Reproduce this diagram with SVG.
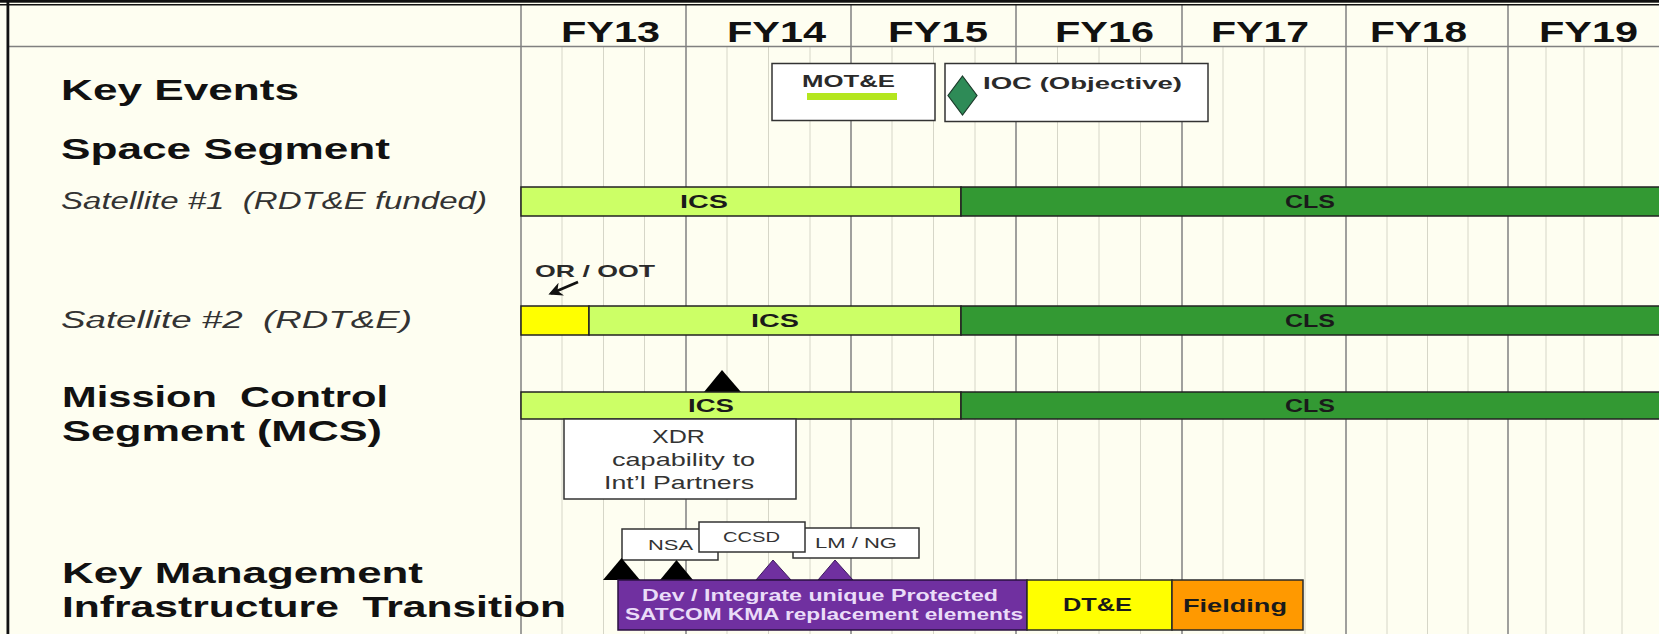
<svg xmlns="http://www.w3.org/2000/svg" width="1659" height="634" viewBox="0 0 1659 634">
<style>
  text { font-family: "Liberation Sans", Arial, sans-serif; }
  .sec { font-size: 30px; font-weight: bold; fill: #111; }
  .fy { font-size: 30px; font-weight: bold; fill: #111; }
  .it { font-size: 23px; font-style: italic; fill: #333; }
  .bt { font-size: 18px; font-weight: bold; fill: #1a1a1a; }
  .lbl { font-size: 17px; font-weight: bold; fill: #2a2a2a; }
  .reg { font-size: 19px; fill: #333; }
  .sm { font-size: 15px; fill: #333; }
  .pt { font-size: 16px; font-weight: bold; fill: #EADCF8; }
  .big { font-size: 19px; font-weight: bold; fill: #1a1a1a; }
  .box { fill: #fff; stroke: #333; stroke-width: 1.5; }
  .major { stroke: #808080; stroke-width: 1.5; }
  .minor { stroke: #d6d6c8; stroke-width: 1; }
  .bar { stroke: #222; stroke-width: 1.5; }
  .ics { fill: #CCFF66; }
  .cls { fill: #339933; }
  .blk { fill: #000; }
  .pur { fill: #7030A0; stroke: #3d1a5e; stroke-width: 1; }
</style>
<defs>
  <marker id="ah" viewBox="0 0 10 10" refX="8" refY="5" markerWidth="5" markerHeight="5" orient="auto">
    <path d="M0,0 L10,5 L0,10 L3,5 z" fill="#111"/>
  </marker>
</defs>

<g id="background">
  <rect x="0" y="0" width="1659" height="634" fill="#FEFEF1"/>
</g>

<g id="grid">
  <g class="minor">
    <line x1="562" y1="47" x2="562" y2="634"/><line x1="603.5" y1="47" x2="603.5" y2="634"/><line x1="644.5" y1="47" x2="644.5" y2="634"/>
    <line x1="727" y1="47" x2="727" y2="634"/><line x1="768.5" y1="47" x2="768.5" y2="634"/><line x1="810" y1="47" x2="810" y2="634"/>
    <line x1="892" y1="47" x2="892" y2="634"/><line x1="933.5" y1="47" x2="933.5" y2="634"/><line x1="975" y1="47" x2="975" y2="634"/>
    <line x1="1057.5" y1="47" x2="1057.5" y2="634"/><line x1="1099" y1="47" x2="1099" y2="634"/><line x1="1140.5" y1="47" x2="1140.5" y2="634"/>
    <line x1="1223" y1="47" x2="1223" y2="634"/><line x1="1264" y1="47" x2="1264" y2="634"/><line x1="1305" y1="47" x2="1305" y2="634"/>
    <line x1="1387" y1="47" x2="1387" y2="634"/><line x1="1427.5" y1="47" x2="1427.5" y2="634"/><line x1="1468" y1="47" x2="1468" y2="634"/>
    <line x1="1546" y1="47" x2="1546" y2="634"/><line x1="1584" y1="47" x2="1584" y2="634"/><line x1="1622" y1="47" x2="1622" y2="634"/>
  </g>
  <g class="major">
    <line x1="521" y1="5" x2="521" y2="634"/>
    <line x1="686" y1="5" x2="686" y2="634"/>
    <line x1="851" y1="5" x2="851" y2="634"/>
    <line x1="1016" y1="5" x2="1016" y2="634"/>
    <line x1="1182" y1="5" x2="1182" y2="634"/>
    <line x1="1346" y1="5" x2="1346" y2="634"/>
    <line x1="1508" y1="5" x2="1508" y2="634"/>
    <line x1="8" y1="46.5" x2="1659" y2="46.5"/>
  </g>
  <rect x="0" y="0" width="1659" height="2.7" fill="#111"/>
  <rect x="0" y="4" width="1659" height="1.5" fill="#111"/>
  <rect x="6.5" y="0" width="2.8" height="634" fill="#111"/>
</g>

<g id="header">
  <text class="fy" x="561" y="42" textLength="99" lengthAdjust="spacingAndGlyphs">FY13</text>
  <text class="fy" x="727" y="42" textLength="99" lengthAdjust="spacingAndGlyphs">FY14</text>
  <text class="fy" x="888" y="42" textLength="100" lengthAdjust="spacingAndGlyphs">FY15</text>
  <text class="fy" x="1055" y="42" textLength="99" lengthAdjust="spacingAndGlyphs">FY16</text>
  <text class="fy" x="1211" y="42" textLength="98" lengthAdjust="spacingAndGlyphs">FY17</text>
  <text class="fy" x="1370" y="42" textLength="97" lengthAdjust="spacingAndGlyphs">FY18</text>
  <text class="fy" x="1539" y="42" textLength="99" lengthAdjust="spacingAndGlyphs">FY19</text>
</g>

<g id="row-labels">
  <text class="sec" x="61" y="100" textLength="238" lengthAdjust="spacingAndGlyphs">Key Events</text>
  <text class="sec" x="61" y="159" textLength="329" lengthAdjust="spacingAndGlyphs">Space Segment</text>
  <text class="it" x="61" y="209" textLength="426" lengthAdjust="spacingAndGlyphs" xml:space="preserve">Satellite #1  (RDT&amp;E funded)</text>
  <text class="it" x="61" y="328" textLength="351" lengthAdjust="spacingAndGlyphs" xml:space="preserve">Satellite #2  (RDT&amp;E)</text>
  <text class="sec" x="62" y="407" textLength="326" lengthAdjust="spacingAndGlyphs" xml:space="preserve">Mission  Control</text>
  <text class="sec" x="62" y="441" textLength="320" lengthAdjust="spacingAndGlyphs">Segment (MCS)</text>
  <text class="sec" x="62" y="583" textLength="361" lengthAdjust="spacingAndGlyphs">Key Management</text>
  <text class="sec" x="62" y="617" textLength="504" lengthAdjust="spacingAndGlyphs" xml:space="preserve">Infrastructure  Transition</text>
</g>

<g id="mote-box">
  <rect class="box" x="772" y="63.5" width="163" height="57"/>
  <text class="lbl" x="802" y="86.5" textLength="93" lengthAdjust="spacingAndGlyphs">MOT&amp;E</text>
  <rect x="807" y="93" width="90" height="7" fill="#B4E61E"/>
</g>

<g id="ioc-box">
  <rect class="box" x="945" y="63.5" width="263" height="58"/>
  <polygon points="962.5,76 977,95.5 962.5,115 948,95.5" fill="#2E8B57" stroke="#1a3a2a" stroke-width="1.2"/>
  <text class="lbl" x="983" y="89" textLength="199" lengthAdjust="spacingAndGlyphs">IOC (Objective)</text>
</g>

<g id="sat1-bar">
  <rect class="bar ics" x="521" y="187" width="440" height="29"/>
  <rect class="bar cls" x="961" y="187" width="710" height="29"/>
  <text class="bt" x="680" y="208" textLength="48" lengthAdjust="spacingAndGlyphs">ICS</text>
  <text class="bt" x="1285" y="208" textLength="50" lengthAdjust="spacingAndGlyphs">CLS</text>
</g>

<g id="or-oot">
  <text class="lbl" x="535" y="277" textLength="120" lengthAdjust="spacingAndGlyphs">OR / OOT</text>
</g>

<g id="sat2-bar">
  <rect class="bar" x="521" y="306" width="68" height="29" fill="#FFFF00"/>
  <rect class="bar ics" x="589" y="306" width="372" height="29"/>
  <rect class="bar cls" x="961" y="306" width="710" height="29"/>
  <text class="bt" x="751" y="327" textLength="48" lengthAdjust="spacingAndGlyphs">ICS</text>
  <text class="bt" x="1285" y="327" textLength="50" lengthAdjust="spacingAndGlyphs">CLS</text>
</g>

<g id="mcs-bar">
  <polygon class="blk" points="722,370 741,392 704,392"/>
  <rect class="bar ics" x="521" y="392" width="440" height="27"/>
  <rect class="bar cls" x="961" y="392" width="710" height="27"/>
  <text class="bt" x="688" y="412" textLength="46" lengthAdjust="spacingAndGlyphs">ICS</text>
  <text class="bt" x="1285" y="412" textLength="50" lengthAdjust="spacingAndGlyphs">CLS</text>
</g>

<g id="xdr-box">
  <rect class="box" x="564" y="419" width="232" height="80"/>
  <text class="reg" x="652" y="443" textLength="53" lengthAdjust="spacingAndGlyphs">XDR</text>
  <text class="reg" x="612" y="466" textLength="143" lengthAdjust="spacingAndGlyphs">capability to</text>
  <text class="reg" x="604" y="489" textLength="150" lengthAdjust="spacingAndGlyphs">Int’l Partners</text>
</g>

<g id="nsa-box">
  <rect class="box" x="622" y="529" width="96" height="31"/>
  <text class="sm" x="648" y="550" textLength="45" lengthAdjust="spacingAndGlyphs">NSA</text>
</g>
<g id="lmng-box">
  <rect class="box" x="793" y="528" width="126" height="30"/>
  <text class="sm" x="815" y="548" textLength="82" lengthAdjust="spacingAndGlyphs">LM / NG</text>
</g>
<g id="ccsd-box">
  <rect class="box" x="699" y="522" width="106" height="30"/>
  <text class="sm" x="723" y="542" textLength="57" lengthAdjust="spacingAndGlyphs">CCSD</text>
</g>

<g id="kmi-milestones">
  <polygon class="blk" points="621.5,558 640,580 603,580"/>
  <polygon class="blk" points="676.5,560 693,580 660,580"/>
  <polygon class="pur" points="773,560 791,580 756,580"/>
  <polygon class="pur" points="835,560 853,580 818,580"/>
</g>

<g id="kmi-dev">
  <rect x="618" y="580" width="409" height="50" fill="#7030A0" stroke="#2a1040" stroke-width="1.5"/>
  <text class="pt" x="642" y="601" textLength="356" lengthAdjust="spacingAndGlyphs">Dev / Integrate unique Protected</text>
  <text class="pt" x="625" y="620" textLength="398" lengthAdjust="spacingAndGlyphs">SATCOM KMA replacement elements</text>
</g>
<g id="kmi-dte">
  <rect x="1027" y="580" width="145" height="50" fill="#FFFF00" stroke="#2a2a2a" stroke-width="1.5"/>
  <text class="big" x="1063" y="611" textLength="69" lengthAdjust="spacingAndGlyphs">DT&amp;E</text>
</g>
<g id="kmi-fielding">
  <rect x="1172" y="580" width="131" height="50" fill="#FF9900" stroke="#2a2a2a" stroke-width="1.5"/>
  <text class="big" x="1183" y="612" textLength="104" lengthAdjust="spacingAndGlyphs">Fielding</text>
</g>

<g id="connectors">
  <line x1="578" y1="282" x2="551" y2="293.5" stroke="#111" stroke-width="2.8" marker-end="url(#ah)"/>
</g>
</svg>
